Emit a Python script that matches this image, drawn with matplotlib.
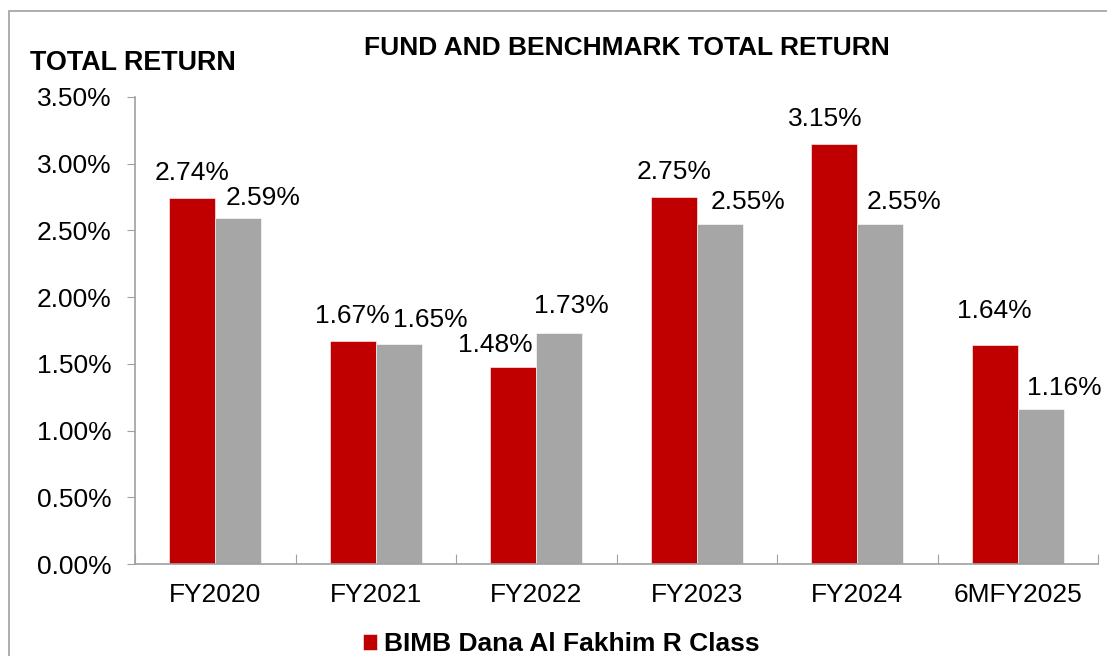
import matplotlib
matplotlib.use("Agg")
import matplotlib.pyplot as plt
import numpy as np
from matplotlib.patches import Rectangle

plt.rcParams['font.family'] = ['Liberation Sans', 'DejaVu Sans']

categories = ['FY2020', 'FY2021', 'FY2022', 'FY2023', 'FY2024', '6MFY2025']
fund = [2.74, 1.67, 1.48, 2.75, 3.15, 1.64]
benchmark = [2.59, 1.65, 1.73, 2.55, 2.55, 1.16]
yticks = [0.0, 0.5, 1.0, 1.5, 2.0, 2.5, 3.0, 3.5]

# label nudges in pixels (dx, dy), as placed in the original
fund_off = [(0, 18), (0, 18), (-18, 15), (0, 18), (-9, 18), (0, 27)]
bench_off = [(25, 13), (32, 17), (12, 20), (28, 15), (24, 15), (24, 14)]

red = '#C00000'
grey = '#A6A6A6'
axis_col = '#A0A0A0'

fig = plt.figure(figsize=(11.07, 6.56), dpi=100)
fig.patches.append(Rectangle((9 / 1107, -0.1), 1.2, (656 - 11) / 656 + 0.1,
                             transform=fig.transFigure, fill=False,
                             edgecolor=axis_col, lw=1.2))

ax = fig.add_axes([135 / 1107, 92 / 656, 963 / 1107, 467 / 656])
x = np.arange(len(categories))
w = 0.2866
b1 = ax.bar(x - w / 2, fund, w, color=red, edgecolor='white', linewidth=0.4,
            label='BIMB Dana Al Fakhim R Class')
b2 = ax.bar(x + w / 2, benchmark, w, color=grey, edgecolor='white', linewidth=0.4)

for rects, vals, offs in [(b1, fund, fund_off), (b2, benchmark, bench_off)]:
    for r, v, (dx, dy) in zip(rects, vals, offs):
        ax.annotate(f'{v:.2f}%', (r.get_x() + r.get_width() / 2, v),
                    xytext=(dx, dy), textcoords='offset pixels',
                    ha='center', va='baseline', fontsize=19)

ax.set_xlim(-0.5, len(categories) - 0.5)
ax.set_ylim(0, 3.5)
ax.set_yticks(yticks)
ax.set_yticklabels([f'{t:.2f}%' for t in yticks], fontsize=19)
ax.set_xticks(np.arange(len(categories) + 1) - 0.5)
ax.set_xticklabels([])
ax.set_xticks(x, minor=True)
ax.set_xticklabels(categories, minor=True, fontsize=19)
ax.tick_params(axis='x', which='major', direction='in', length=7, color=axis_col)
ax.tick_params(axis='x', which='minor', length=0, pad=14)
ax.tick_params(axis='y', direction='out', length=6, color=axis_col, pad=11)
for s in ['top', 'right']:
    ax.spines[s].set_visible(False)
for s in ['left', 'bottom']:
    ax.spines[s].set_color(axis_col)
    ax.spines[s].set_linewidth(1.2)

fig.text(627 / 1107, 1 - 55 / 656, 'FUND AND BENCHMARK TOTAL RETURN',
         ha='center', va='baseline', fontsize=19, fontweight='bold')
fig.text(30 / 1107, 1 - 70 / 656, 'TOTAL RETURN',
         ha='left', va='baseline', fontsize=19.4, fontweight='bold')

fig.legend(handles=[b1], loc='center left', bbox_to_anchor=(352 / 1107, 1 - 644 / 656),
           frameon=False, prop={'size': 19, 'weight': 'bold'},
           handlelength=0.55, handleheight=0.55, handletextpad=0.25, borderaxespad=0)

fig.savefig('out.png', dpi=100)
